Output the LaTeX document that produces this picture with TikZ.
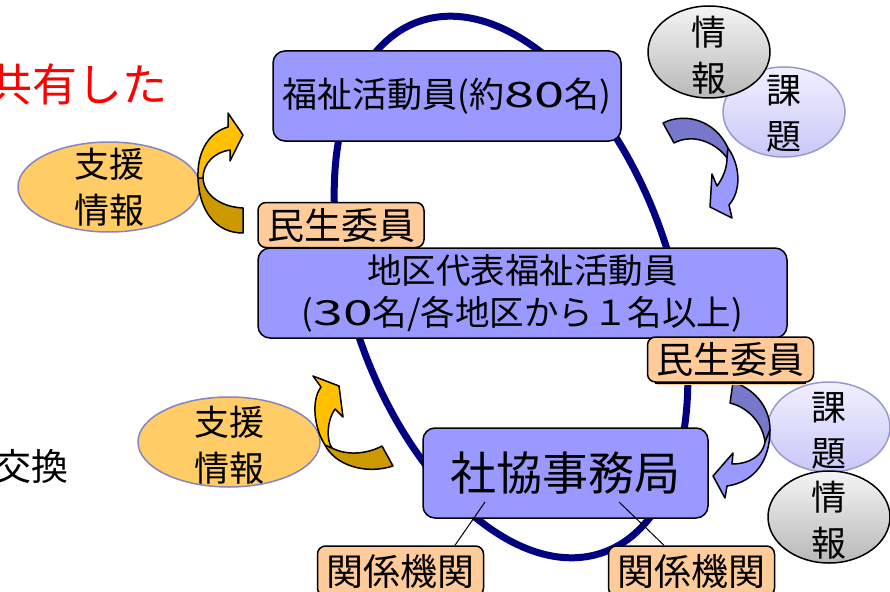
\documentclass[tikz,border=0pt]{standalone}
\usepackage{fontspec}
\usepackage{graphicx}
\setmainfont{Noto Sans CJK JP}
\usetikzlibrary{shapes.geometric,calc}
\definecolor{boxblue}{HTML}{9999FF}
\definecolor{peach}{HTML}{FFCC99}
\definecolor{navyring}{HTML}{000080}
\definecolor{supfill}{HTML}{FFCC66}
\definecolor{supline}{HTML}{8585C2}
\definecolor{ygold}{HTML}{FFC000}
\definecolor{ydark}{HTML}{CC9900}
\definecolor{bdark}{HTML}{7777CC}
\definecolor{blight}{HTML}{9999FF}
\definecolor{kadailine}{HTML}{9999CC}
\definecolor{kadaitop}{HTML}{F0F0FF}
\definecolor{kadaibot}{HTML}{C8C8F8}
\definecolor{graytop}{HTML}{F4F4F4}
\definecolor{graybot}{HTML}{B8B8B8}
\definecolor{redtxt}{HTML}{FF0000}
\newcommand{\widedig}[1]{\scalebox{1.55}[1]{#1}}
\begin{document}
\begin{tikzpicture}[x=1pt,y=-1pt,line join=round,
  bluebox/.style={draw=black,line width=1.5pt,rounded corners=12pt,fill=boxblue,inner sep=0pt,align=center},
  peachbox/.style={draw=black,line width=1.5pt,rounded corners=8pt,fill=peach,inner sep=0pt,minimum width=166pt,minimum height=45pt,font=\fontsize{37}{40}\selectfont},
  supell/.style={ellipse,draw=supline,line width=1.5pt,fill=supfill,inner sep=0pt,minimum width=182pt,minimum height=90pt},
  grayell/.style={ellipse,draw=black,line width=1.5pt,top color=graytop,bottom color=graybot,inner sep=0pt,minimum width=122pt,minimum height=92pt},
  kadaiell/.style={ellipse,draw=kadailine,line width=1.5pt,top color=kadaitop,bottom color=kadaibot,inner sep=0pt,minimum width=122pt,minimum height=90pt},
  elltext/.style={align=center,inner sep=0pt,font=\fontsize{35}{46}\selectfont},
  arrowpart/.style={draw=black,line width=1.5pt},
  thinline/.style={draw=black,line width=1pt}]
\useasboundingbox (0,0) rectangle (890,591);
\clip (0,0) rectangle (890,591);
\fill[white] (0,0) rectangle (890,591);

% ring
\draw[navyring,line width=7pt,rotate around={19:(511,287)}] (511,287) ellipse [x radius=160, y radius=281];

% side texts (cut at the left edge as in the reference)
\node[anchor=east,inner sep=0pt,text=redtxt,font=\fontsize{45}{50}\selectfont] (share) at (168,84) {共有した};
\node[anchor=east,inner sep=0pt,font=\fontsize{37}{40}\selectfont] (exch) at (69,466) {交換};

% boxes
\node[bluebox,minimum width=348pt,minimum height=90pt,font=\fontsize{35}{40}\selectfont] (fk) at (447,96) {福祉活動員(約\widedig{80}名)};
\node[bluebox,minimum width=529pt,minimum height=90pt,font=\fontsize{34.5}{42}\selectfont] (cd) at (522.5,293) {地区代表福祉活動員\\(\widedig{30}名/各地区から１名以上)};
\node[bluebox,minimum width=285pt,minimum height=90pt,font=\fontsize{46}{50}\selectfont] (sk) at (565.5,473) {社協事務局};

\node[peachbox] (ms1) at (341,225) {民生委員};
\node[peachbox] (ms2) at (730.5,359.5) {民生委員};
\node[peachbox,minimum height=50pt] (kk1) at (400.5,571) {関係機関};
\node[peachbox,minimum height=50pt] (kk2) at (691.5,571) {関係機関};

% connectors
\coordinate (a1) at (485,502);
\coordinate (a2) at (455,547);
\coordinate (b1) at (619,502);
\coordinate (b2) at (664,547);
\draw[thinline] (a1) -- (a2 |- kk1.north);
\draw[thinline] (b1) -- (b2 |- kk2.north);

% ellipses
\node[supell] (sup1) at (109,187) {};
\node[elltext] (sup1t) at (sup1.center) {支援\\情報};
\node[supell] (sup2) at (229,442) {};
\node[elltext] (sup2t) at (229,445) {支援\\情報};

\node[kadaiell] (kd1) at (784,112) {};
\node[elltext] (kd1t) at (784,114) {課\\題};
\node[grayell] (gi1) at (709,52) {};
\node[elltext] (gi1t) at (709,55) {情\\報};

\node[kadaiell] (kd2) at (829,427) {};
\node[elltext] (kd2t) at (829,431) {課\\題};
\node[grayell] (gi2) at (829,517) {};
\node[elltext] (gi2t) at (829,520) {情\\報};

% blue arrow bottom right (tail tucked under the peach box)
\path[arrowpart,fill=bdark] (733,382) .. controls (752,388) and (770,405) .. (770,430) -- (765,442) .. controls (763,425) and (750,408) .. (730,403) -- cycle;
\path[arrowpart,fill=blight] (770,430) .. controls (770,460) and (755,482) .. (727,486) -- (725,498) -- (713,476) -- (733,453) -- (732,464) .. controls (750,464) and (763,455) .. (765,442) -- cycle;
\fill[peach] ([xshift=10pt,yshift=1pt]ms2.south west) rectangle ([xshift=-10pt,yshift=-2pt]ms2.south east);
\draw[black,line width=1.5pt] ([xshift=8pt]ms2.south west) -- ([xshift=-8pt]ms2.south east);

% blue arrow top right
\path[arrowpart,fill=bdark] (663,123) .. controls (685,112) and (715,120) .. (728,148) -- (727,158) .. controls (718,145) and (695,132) .. (674,143) -- cycle;
\path[arrowpart,fill=blight] (728,148) .. controls (740,165) and (742,190) .. (729,205) -- (732,218) -- (710,207) -- (712,174) -- (717,186) .. controls (723,178) and (727,168) .. (727,158) -- cycle;

% yellow arrow top left
\path[arrowpart,fill=ydark] (198,178) .. controls (199,210) and (215,233) .. (243,233) -- (243,208) .. controls (222,207) and (204,196) .. (203,178) -- cycle;
\path[arrowpart,fill=ygold] (198,178) .. controls (197,150) and (210,132) .. (228,127) -- (228,113) -- (243,135) -- (230,161) -- (230,150) .. controls (215,152) and (203,163) .. (203,178) -- cycle;

% yellow arrow bottom left
\path[arrowpart,fill=ydark] (325,445) .. controls (335,465) and (365,475) .. (393,466) -- (382,446) .. controls (365,455) and (345,455) .. (332,448) -- cycle;
\path[arrowpart,fill=ygold] (325,445) .. controls (314,428) and (311,400) .. (321,387) -- (313,376) -- (339,386) -- (343,417) -- (335,409) .. controls (327,420) and (326,440) .. (332,448) -- cycle;
\end{tikzpicture}
\end{document}
